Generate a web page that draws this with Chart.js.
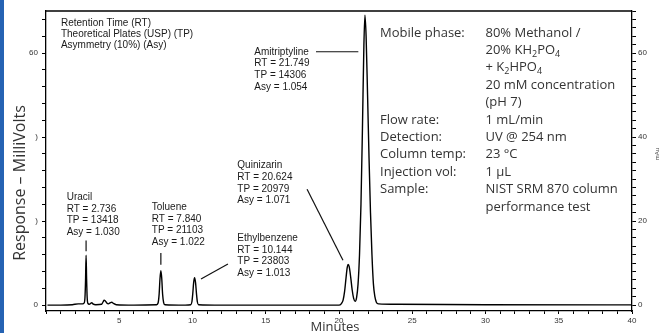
<!DOCTYPE html>
<html><head><meta charset="utf-8">
<script src="https://cdn.jsdelivr.net/npm/chart.js@4"></script>
<style>html,body{margin:0;padding:0;background:#fff;}canvas{display:block}</style>
</head><body>
<canvas id="c" width="664" height="333"></canvas>
<script>
// ---- data ----
const timeMin = [0.1,1.0,1.8,2.2,2.5,2.6,2.66,2.7,2.736,2.77,2.81,2.86,2.95,3.05,3.12,3.2,3.4,3.8,3.9,3.97,4.05,4.15,4.25,4.4,4.49,4.6,4.8,6.0,
  7.55,7.65,7.72,7.78,7.84,7.9,7.96,8.03,8.12,9.5,9.88,9.96,10.02,10.08,10.144,10.21,10.27,10.33,10.41,12,
  20.0,20.15,20.28,20.38,20.48,20.56,20.624,20.7,20.8,20.9,21.0,21.1,21.2,21.3,21.4,21.5,21.6,21.7,21.77,21.85,21.95,22.05,22.15,22.25,22.35,22.45,22.55,22.7,24,30,40];
const responseMV = [0,0,0.1,0.3,0.3,0.5,1.8,6,11.9,6.5,1.8,0.4,0.2,0.4,0.6,0.3,0.1,0.2,0.8,1.2,1.0,0.5,0.3,0.6,0.7,0.4,0.1,0,
  0.1,0.5,2.5,6.2,8.2,6.4,2.6,0.6,0.1,0,0.1,0.8,2.8,5.4,6.5,5.3,2.8,0.8,0.1,0,
  0,0.3,1.2,3.2,6.5,8.9,9.7,9.1,6.6,3.6,1.6,0.9,1.8,5,12,24,42,62,69,64,50,35,22,12,5,2,0.7,0.3,0.2,0.1,0.05];

const xTickValues = [0,1,2,3,4,5,6,7,8,9,10,11,12,13,14,15,16,17,18,19,20,21,22,23,24,25,26,27,28,29,30,31,32,33,34,35,36,37,38,39,40];
const xTickLabels = {5:'5',10:'10',15:'15',20:'20',25:'25',30:'30',35:'35',40:'40'};
const leftTickValues = [0,4,8,12,16,20,24,28,32,36,40,44,48,52,56,60,64,68];
const leftTickLabels = {0:'0',20:')',40:')',60:'60'};
const rightTickValues = [0,2,4,6,8,10,12,14,16,18,20,22,24,26,28,30,32,34,36,38,40,42,44,46,48,50,52,54,56,58,60,62,64,66,68,70];
const rightTickLabels = {0:'0',20:'20',40:'40',60:'60'};

const legendLines = ['Retention Time (RT)','Theoretical Plates (USP) (TP)','Asymmetry (10%) (Asy)'];
const compounds = ['Uracil','Toluene','Ethylbenzene','Quinizarin','Amitriptyline'];
const rtValues = ['2.736','7.840','10.144','20.624','21.749'];
const tpValues = ['13418','21103','23803','20979','14306'];
const asyValues = ['1.030','1.022','1.013','1.071','1.054'];

const infoLabels = ['Mobile phase:','','','','','Flow rate:','Detection:','Column temp:','Injection vol:','Sample:',''];
const infoValues = [
  [['80% Methanol /']],
  [['20% KH'],['2','s'],['PO'],['4','s']],
  [['+ K'],['2','s'],['HPO'],['4','s']],
  [['20 mM concentration']],
  [['(pH 7)']],
  [['1 mL/min']],
  [['UV @ 254 nm']],
  [['23 °C']],
  [['1 µL']],
  [['NIST SRM 870 column']],
  [['performance test']]
];

// ---- annotation layout (data coordinates: minutes, mV) ----
const blockAnchors = [[1.41,25.7],[7.22,23.3],[13.06,15.9],[13.06,33.2],[14.22,60.3]];
const leaderLines = [
  [[2.736,15.4],[2.736,12.8]],
  [[7.84,12.4],[7.84,9.6]],
  [[10.58,6.2],[12.42,9.8]],
  [[17.82,27.6],[20.27,10.7]],
  [[18.43,60.3],[21.32,60.3]]
];
const legendAnchor = [1.02,67.2];
const infoAnchor = {labelX:22.8, valueX:30.0, y:64.8, rowPx:17.4};

const smallFont = '10px "Liberation Sans", Arial, sans-serif';
const infoFont = '13px "Open Sans", sans-serif';

const textPlugin = {
  id:'texts',
  beforeDraw(chart){
    const ctx = chart.ctx;
    ctx.save(); ctx.fillStyle='#fff'; ctx.fillRect(0,0,chart.width,chart.height); ctx.restore();
  },
  afterDraw(chart){
    const {ctx, chartArea:a} = chart;
    const sx = chart.scales.x, sy = chart.scales.y;
    const P = (p)=>[sx.getPixelForValue(p[0]), sy.getPixelForValue(p[1])];
    ctx.save();
    ctx.fillStyle = '#2563b3';
    ctx.fillRect(0,0,4,chart.height);
    ctx.strokeStyle = '#000'; ctx.lineWidth = 1.3;
    ctx.beginPath(); ctx.moveTo(a.left, a.top); ctx.lineTo(a.right, a.top); ctx.stroke();
    ctx.lineWidth = 1.2; ctx.strokeStyle = '#111';
    leaderLines.forEach(l=>{
      const p0 = P(l[0]), p1 = P(l[1]);
      ctx.beginPath(); ctx.moveTo(p0[0],p0[1]); ctx.lineTo(p1[0],p1[1]); ctx.stroke();
    });
    ctx.fillStyle = '#1a1a1a'; ctx.font = smallFont; ctx.textBaseline = 'middle'; ctx.textAlign = 'left';
    let lp = P(legendAnchor);
    legendLines.forEach((t,i)=>ctx.fillText(t, lp[0], lp[1] + i*11.3));
    compounds.forEach((c,k)=>{
      const p = P(blockAnchors[k]);
      const lines = [c, 'RT = '+rtValues[k], 'TP = '+tpValues[k], 'Asy = '+asyValues[k]];
      lines.forEach((t,i)=>ctx.fillText(t, p[0], p[1] + i*11.7));
    });
    ctx.fillStyle = '#333';
    const lx = sx.getPixelForValue(infoAnchor.labelX), vx = sx.getPixelForValue(infoAnchor.valueX);
    const y0 = sy.getPixelForValue(infoAnchor.y);
    infoLabels.forEach((lab,i)=>{
      const yy = y0 + i*infoAnchor.rowPx;
      ctx.font = infoFont;
      if (lab) ctx.fillText(lab, lx, yy);
      let cx = vx;
      infoValues[i].forEach(seg=>{
        if (seg[1]==='s'){ ctx.font = '9px "Open Sans", sans-serif'; ctx.fillText(seg[0], cx, yy+4); }
        else { ctx.font = infoFont; ctx.fillText(seg[0], cx, yy); }
        cx += ctx.measureText(seg[0]).width;
      });
    });
    ctx.font = '13px "Open Sans", sans-serif'; ctx.fillStyle = '#333';
    ctx.textAlign = 'center'; ctx.textBaseline = 'alphabetic';
    ctx.fillText('Minutes', 335, 331);
    ctx.save(); ctx.font = '16px "Open Sans", sans-serif';
    ctx.translate(25, 183); ctx.rotate(-Math.PI/2);
    ctx.fillText('Response – MilliVolts', 0, 0); ctx.restore();
    ctx.save(); ctx.font = '6px "Liberation Sans", Arial, sans-serif'; ctx.fillStyle='#444';
    ctx.translate(657, 154); ctx.rotate(-Math.PI/2); ctx.textBaseline='middle';
    ctx.fillText('mAu', 0, 0); ctx.restore();
    ctx.restore();
  }
};

const tickFont = {family:'"Liberation Sans", Arial, sans-serif', size:8};
new Chart(document.getElementById('c'), {
  type:'line',
  data:{datasets:[{
    data: timeMin.map((t,i)=>({x:t, y:responseMV[i]})),
    borderColor:'#000', borderWidth:1.4, pointRadius:0, fill:false,
    cubicInterpolationMode:'monotone'
  }]},
  options:{
    responsive:false, animation:false, devicePixelRatio:1,
    layout:{padding:{top:11,left:0,right:0,bottom:0}},
    plugins:{legend:{display:false}, tooltip:{enabled:false}},
    scales:{
      x:{type:'linear', min:0, max:40,
        afterBuildTicks:s=>{s.ticks = xTickValues.map(v=>({value:v}));},
        afterFit:s=>{s.height = 22;},
        ticks:{autoSkip:false, maxRotation:0, padding:2, color:'#333', font:tickFont,
          callback:v=>xTickLabels[v] || ''},
        grid:{drawOnChartArea:false, tickLength:3, color:'#000', tickWidth:1},
        border:{display:true, color:'#000', width:1.3}
      },
      y:{type:'linear', position:'left', min:-1.4, max:70,
        afterBuildTicks:s=>{s.ticks = leftTickValues.map(v=>({value:v}));},
        afterFit:s=>{s.width = 46;},
        ticks:{autoSkip:false, padding:4, color:'#333', font:tickFont,
          callback:v=>leftTickLabels[v] || ''},
        grid:{drawOnChartArea:false, tickLength:4, color:'#000', tickWidth:1},
        border:{display:true, color:'#000', width:1.3}
      },
      y2:{type:'linear', position:'right', min:-1.4, max:70,
        afterBuildTicks:s=>{s.ticks = rightTickValues.map(v=>({value:v}));},
        afterFit:s=>{s.width = 32;},
        ticks:{autoSkip:false, padding:2, color:'#333', font:tickFont,
          callback:v=>rightTickLabels[v] || ''},
        grid:{drawOnChartArea:false, tickLength:4, color:'#000', tickWidth:1},
        border:{display:true, color:'#000', width:1.3}
      }
    }
  },
  plugins:[textPlugin]
});
</script>
</body></html>
